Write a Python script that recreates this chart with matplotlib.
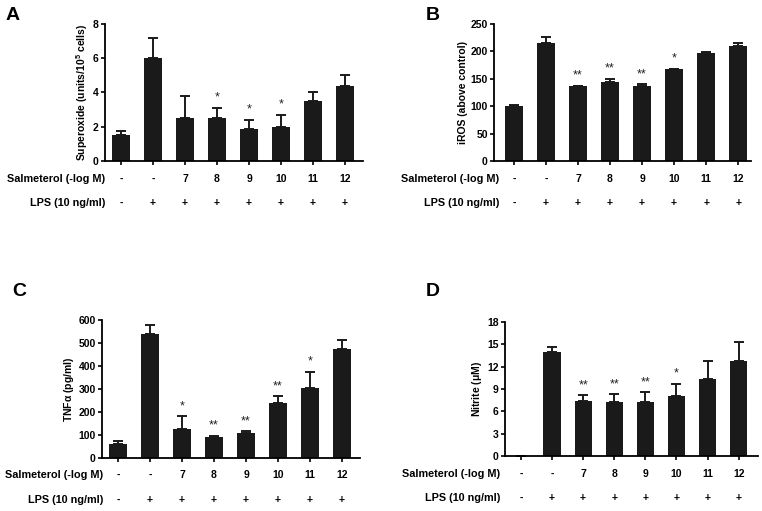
import numpy as np
import matplotlib
matplotlib.use("Agg")
import matplotlib.pyplot as plt
from matplotlib import transforms

plt.rcParams['font.family'] = ['Liberation Sans', 'DejaVu Sans']
plt.rcParams['font.weight'] = 'bold'
plt.rcParams['axes.labelweight'] = 'bold'
plt.rcParams['mathtext.default'] = 'regular'

# ===============================================================================
# data

salm = ['-', '-', '7', '8', '9', '10', '11', '12']
lps = ['-', '+', '+', '+', '+', '+', '+', '+']

supA = [1.5, 6.0, 2.5, 2.5, 1.85, 2.0, 3.5, 4.4]
supA_err = [0.25, 1.2, 1.3, 0.6, 0.55, 0.7, 0.5, 0.6]
supA_sig = ['', '', '', '*', '*', '*', '', '']

rosB = [100, 215, 136, 145, 137, 167, 197, 209]
rosB_err = [3, 11, 1, 5, 3, 1, 2, 7]
rosB_sig = ['', '', '**', '**', '**', '*', '', '']

tnfC = [62, 540, 125, 90, 108, 238, 303, 473]
tnfC_err = [12, 40, 57, 7, 8, 30, 72, 40]
tnfC_sig = ['', '', '*', '**', '**', '**', '*', '']

nitD = [0, 14.0, 7.4, 7.2, 7.2, 8.0, 10.4, 12.8]
nitD_err = [0, 0.6, 0.8, 1.1, 1.4, 1.7, 2.4, 2.5]
nitD_sig = ['', '', '**', '**', '**', '*', '', '']

# ===============================================================================

W, H = 762, 511
fig = plt.figure(figsize=(W / 100, H / 100), dpi=100)


def px_axes(l, t, r, b):
    return fig.add_axes([l / W, 1 - b / H, (r - l) / W, (b - t) / H])


def panel(box, xlim, vals, errs, sig, ylim, yticks, ylabel, letter, letter_xy,
          rows_y, row_label_x):
    ax = px_axes(*box)
    x = np.arange(len(vals))
    ax.bar(x, vals, width=0.55, color='#1a1a1a', zorder=2)
    ax.errorbar(x, vals, yerr=[np.zeros(len(vals)), errs], fmt='none',
                ecolor='#1a1a1a', elinewidth=1.4, capsize=3.5, capthick=1.4,
                zorder=1)
    star_tr = transforms.offset_copy(ax.transData, fig=fig, x=0, y=4,
                                     units='dots')
    for xi, v, e, s in zip(x, vals, errs, sig):
        if s:
            ax.text(xi, v + e, s, ha='center', va='bottom', transform=star_tr,
                    fontsize=9, fontweight='normal', color='#222222')
    ax.set_xlim(*xlim)
    ax.set_ylim(*ylim)
    ax.set_yticks(yticks)
    ax.set_xticks(x)
    ax.set_xticklabels([])
    ax.tick_params(axis='both', direction='out', length=3, width=1.2,
                   labelsize=7.5, pad=1.5)
    for lab in ax.get_yticklabels():
        lab.set_fontweight('bold')
    ax.spines['top'].set_visible(False)
    ax.spines['right'].set_visible(False)
    ax.spines['left'].set_linewidth(1.3)
    ax.spines['bottom'].set_linewidth(1.3)
    ax.set_ylabel(ylabel, fontsize=7.5, fontweight='bold', labelpad=2)

    trans = transforms.blended_transform_factory(ax.transData, fig.transFigure)
    for yy, labels in zip(rows_y, [salm, lps]):
        for xi, lab in zip(x, labels):
            ax.text(xi, 1 - yy / H, lab, transform=trans, ha='center',
                    va='center', fontsize=7.5, fontweight='bold')
    fig.text(row_label_x / W, 1 - rows_y[0] / H, 'Salmeterol (-log M)',
             ha='right', va='center', fontsize=7.8, fontweight='bold')
    fig.text(row_label_x / W, 1 - rows_y[1] / H, 'LPS (10 ng/ml)',
             ha='right', va='center', fontsize=7.8, fontweight='bold')
    fig.text(letter_xy[0] / W, 1 - letter_xy[1] / H, letter, ha='left',
             va='center', fontsize=14, fontweight='bold')
    return ax


panel((105, 24, 363, 161), (-0.5, 7.56), supA, supA_err, supA_sig,
      (0, 8), [0, 2, 4, 6, 8], 'Superoxide (units/10$^5$ cells)', 'A', (6, 15),
      (179, 203), 105)

panel((494, 24, 751, 161), (-0.62, 7.4), rosB, rosB_err, rosB_sig,
      (0, 250), [0, 50, 100, 150, 200, 250], 'iROS (above control)', 'B',
      (426, 15), (179, 203), 499)

panel((102, 320, 360, 458), (-0.5, 7.56), tnfC, tnfC_err, tnfC_sig,
      (0, 600), [0, 100, 200, 300, 400, 500, 600], r'TNF$\alpha$ (pg/ml)', 'C',
      (12, 292), (475, 500), 103)

panel((505, 322, 758, 456), (-0.51, 7.62), nitD, nitD_err, nitD_sig,
      (0, 18), [0, 3, 6, 9, 12, 15, 18], r'Nitrite ($\mu$M)', 'D',
      (426, 292), (474, 498), 500)

plt.savefig('out.png', dpi=100)
